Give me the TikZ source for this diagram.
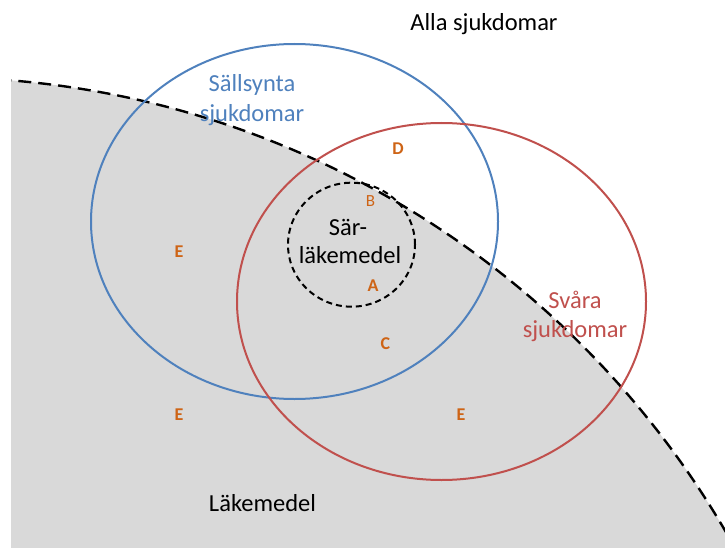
\documentclass[tikz,border=0pt]{standalone}
\usepackage{fontspec}
\setmainfont{Carlito}
\definecolor{vblue}{RGB}{79,129,189}
\definecolor{vred}{RGB}{192,80,77}
\definecolor{vorange}{RGB}{206,100,22}
\definecolor{vgray}{RGB}{217,217,217}
\tikzset{
  bigtext/.style={font=\fontsize{24.5}{29.4}\selectfont, inner sep=0pt, anchor=base, align=center},
  letter/.style={font=\fontsize{18}{20}\selectfont\bfseries, text=vorange, inner sep=0pt, anchor=base},
  letterthin/.style={font=\fontsize{17}{20}\selectfont, text=vorange, inner sep=0pt, anchor=base},
  setline/.style={line width=2pt},
  bigdash/.style={line width=2.4pt, dash pattern=on 13pt off 7pt},
  smalldash/.style={line width=2pt, dash pattern=on 6pt off 4pt}
}
\begin{document}
\begin{tikzpicture}[x=1pt,y=-1pt]
\useasboundingbox (0,0) rectangle (725,548);
% drug region
\begin{scope}
  \clip (11,0) rectangle (725,548);
  \fill[vgray] (-64.5,991.3) circle[radius=914pt];
  \draw[bigdash] (-64.5,991.3) circle[radius=914pt];
\end{scope}
% sets
\draw[setline, vblue] (294.5,221.5) ellipse [x radius=203.5pt, y radius=177.5pt];
\draw[setline, vred] (441.5,301.5) ellipse [x radius=204.5pt, y radius=178.5pt];
\draw[smalldash] (351.5,244.7) ellipse [x radius=63.5pt, y radius=62pt];
% labels
\node[bigtext] (alla) at (484,31) {Alla sjukdomar};
\node[bigtext, text=vblue] (sall1) at (252,92) {Sällsynta};
\node[bigtext, text=vblue] (sall2) at (252,121.5) {sjukdomar};
\node[bigtext, text=vred] (svar1) at (575,308) {Svåra};
\node[bigtext, text=vred] (svar2) at (575,337.5) {sjukdomar};
\node[bigtext] (sar1) at (348,235) {Sär-};
\node[bigtext] (sar2) at (350,263) {läkemedel};
\node[bigtext] (lak) at (262.5,511.5) {Läkemedel};
% letters
\node[letter] (D) at (398,155) {D};
\node[letterthin] (B) at (370.5,206) {B};
\node[letter] (A) at (373,291) {A};
\node[letter] (C) at (385.5,349) {C};
\node[letter] (E1) at (179,257) {E};
\node[letter] (E2) at (179,420) {E};
\node[letter] (E3) at (461,420) {E};
\end{tikzpicture}
\end{document}
